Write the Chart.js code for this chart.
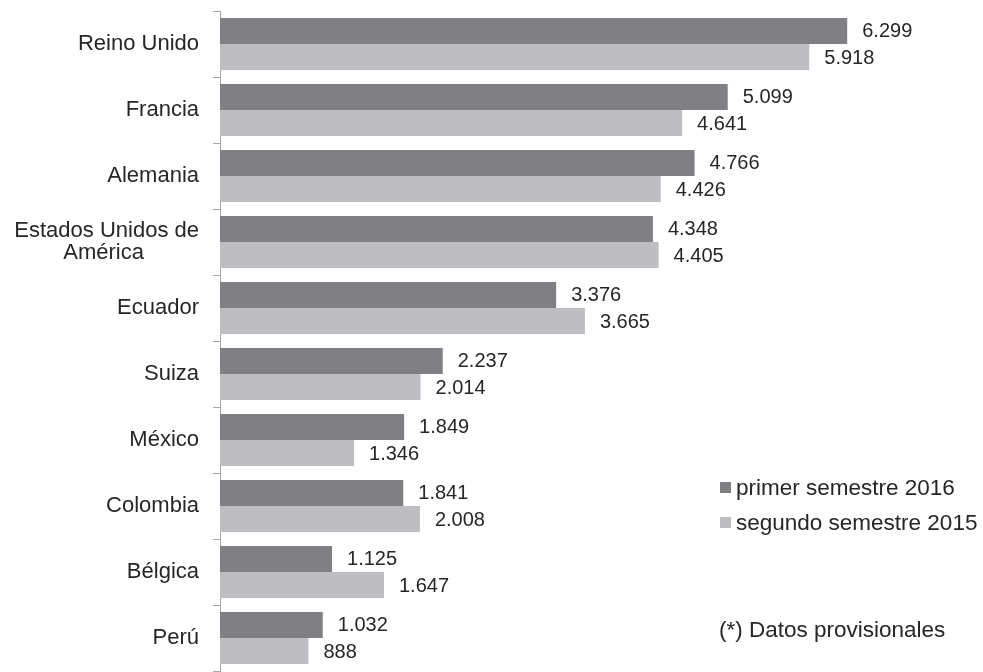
<!DOCTYPE html>
<html>
<head>
<meta charset="utf-8">
<script src="https://cdn.jsdelivr.net/npm/chart.js@4/dist/chart.umd.min.js"></script>
<style>
  html, body { margin: 0; padding: 0; background: #fff; }
  #wrap { position: relative; width: 983px; height: 672px; }
</style>
</head>
<body>
<div id="wrap"><canvas id="myChart"></canvas></div>
<script>
var countries = ['Reino Unido', 'Francia', 'Alemania', ['Estados Unidos de', 'América\u00a0\u00a0\u00a0\u00a0\u00a0\u00a0\u00a0\u00a0\u00a0'], 'Ecuador', 'Suiza', 'México', 'Colombia', 'Bélgica', 'Perú'];
var primer2016 = [6299, 5099, 4766, 4348, 3376, 2237, 1849, 1841, 1125, 1032];
var segundo2015 = [5918, 4641, 4426, 4405, 3665, 2014, 1346, 2008, 1647, 888];
var seriesNames = ['primer semestre 2016', 'segundo semestre 2015'];
var note = '(*) Datos provisionales';

var FONT = '"Liberation Sans", Arial, sans-serif';
var TEXT = '#262626';

function fmt(v) {
    return String(v).replace(/\B(?=(\d{3})+(?!\d))/g, '.');
}

// value labels at the end of each bar
var barValues = {
    id: 'barValues',
    afterDatasetsDraw: function(chart) {
        var ctx = chart.ctx;
        ctx.save();
        ctx.font = '20px ' + FONT;
        ctx.fillStyle = TEXT;
        ctx.textAlign = 'left';
        ctx.textBaseline = 'middle';
        chart.data.datasets.forEach(function(ds, i) {
            chart.getDatasetMeta(i).data.forEach(function(bar, j) {
                ctx.fillText(fmt(ds.data[j]), bar.x + 15, bar.y + 1);
            });
        });
        ctx.restore();
    }
};

// legend + note in the lower right corner
var sideLegend = {
    id: 'sideLegend',
    afterDraw: function(chart) {
        var ctx = chart.ctx;
        ctx.save();
        ctx.font = '22.5px ' + FONT;
        ctx.fillStyle = TEXT;
        ctx.textBaseline = 'alphabetic';
        chart.data.datasets.forEach(function(ds, i) {
            var y = 495 + i * 35;
            ctx.fillStyle = ds.backgroundColor;
            ctx.fillRect(720, y - 13, 11, 11);
            ctx.fillStyle = TEXT;
            ctx.fillText(ds.label, 736, y);
        });
        ctx.fillText(note, 719, 637);
        ctx.restore();
    }
};

var ctx = document.getElementById('myChart').getContext('2d');
var myChart = new Chart(ctx, {
    type: 'bar',
    data: {
        labels: countries,
        datasets: [{
            label: seriesNames[0],
            data: primer2016,
            backgroundColor: '#808084'
        }, {
            label: seriesNames[1],
            data: segundo2015,
            backgroundColor: '#bebec2'
        }]
    },
    options: {
        indexAxis: 'y',
        responsive: true,
        maintainAspectRatio: false,
        animation: false,
        categoryPercentage: 0.79,
        barPercentage: 1,
        layout: {
            padding: { top: 11, bottom: 1, left: 0, right: 66 }
        },
        plugins: {
            legend: { display: false },
            tooltip: { enabled: false }
        },
        scales: {
            x: {
                display: false,
                min: 0,
                max: 7000
            },
            y: {
                afterFit: function(scale) {
                    scale.width = 220;
                    scale.paddingTop = 0;
                    scale.paddingBottom = 0;
                },
                border: { color: '#a6a6a6', width: 1 },
                grid: {
                    drawOnChartArea: false,
                    tickLength: 7,
                    color: '#a6a6a6'
                },
                ticks: {
                    padding: 14,
                    color: TEXT,
                    font: { family: FONT, size: 22, lineHeight: 0.98 }
                }
            }
        }
    },
    plugins: [barValues, sideLegend]
});
</script>
</body>
</html>
